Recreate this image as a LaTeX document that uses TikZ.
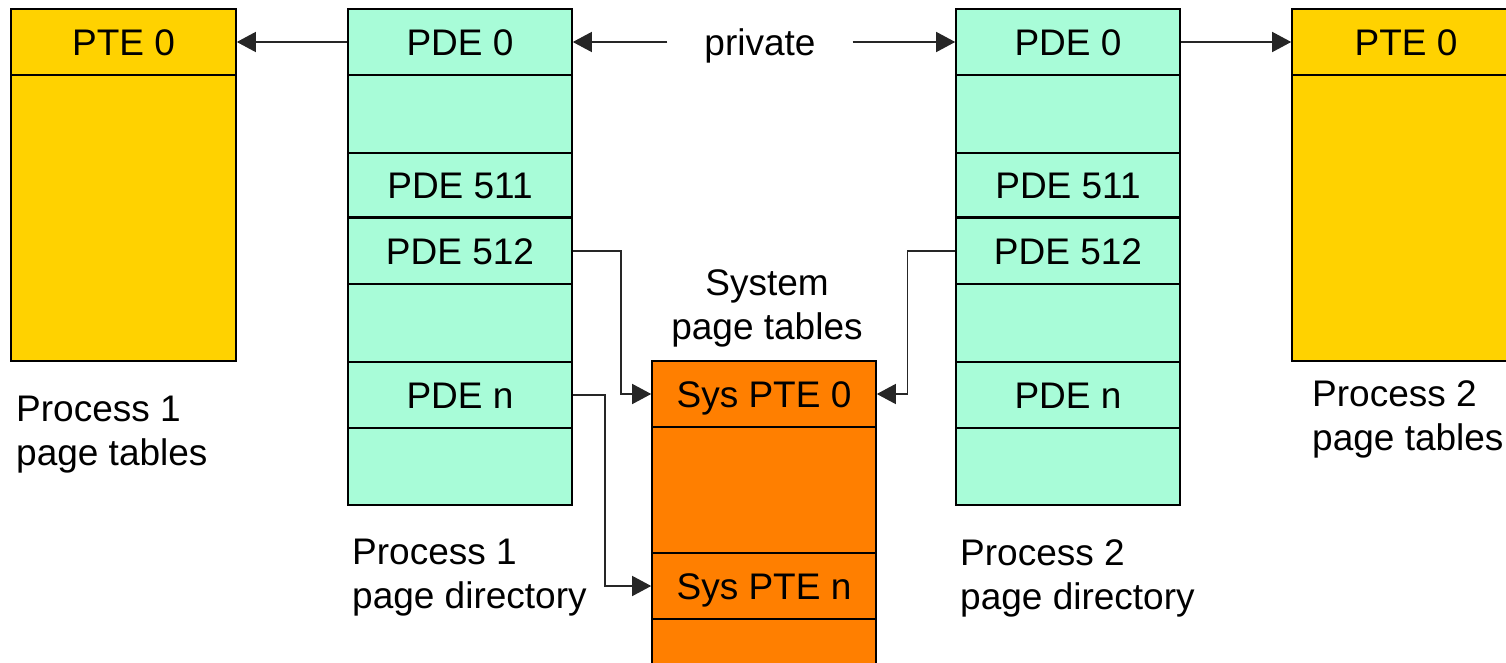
\documentclass[tikz,border=0pt]{standalone}
\usepackage{fontspec}
\setmainfont{Liberation Sans}
\usetikzlibrary{arrows.meta}
\definecolor{pteyellow}{RGB}{255,210,0}
\definecolor{pdemint}{RGB}{168,252,216}
\definecolor{sysorange}{RGB}{255,127,0}
\tikzset{
  cell/.style={draw=black, line width=1.6pt, inner sep=0pt, minimum width=224pt,
    text height=26.5pt, text depth=0pt,
    font=\fontsize{37}{44}\selectfont},
  pte/.style={cell, fill=pteyellow},
  pde/.style={cell, fill=pdemint},
  sys/.style={cell, fill=sysorange},
  lbl/.style={inner sep=0pt, font=\fontsize{37}{44}\selectfont},
  conn/.style={draw=black!85, line width=1.4pt, -{Triangle[length=19pt,width=20pt]}}
}
\begin{document}
\begin{tikzpicture}[x=1pt,y=-1pt]
\useasboundingbox (0,0) rectangle (1506,663);
\clip (0,0) rectangle (1506,663);
% Process 1 page tables
\node[pte, minimum width=225pt, minimum height=66pt] (lpte0) at (123.5,42) {PTE 0};
\node[pte, minimum width=225pt, minimum height=286pt] (lpte1) at (123.5,218) {};
% Process 1 page directory
\node[pde, minimum height=66pt] (ad0) at (460,42) {PDE 0};
\node[pde, minimum height=78pt] (ad1) at (460,114) {};
\node[pde, minimum height=63pt] (ad511) at (460,185) {PDE 511};
\node[pde, minimum height=66pt] (ad512) at (460,251) {PDE 512};
\node[pde, minimum height=78pt] (ad2) at (460,323) {};
\node[pde, minimum height=66pt] (adn) at (460,395) {PDE n};
\node[pde, minimum height=77pt] (ad3) at (460,466.5) {};
% Process 2 page directory
\node[pde, minimum height=66pt] (bd0) at (1068,42) {PDE 0};
\node[pde, minimum height=78pt] (bd1) at (1068,114) {};
\node[pde, minimum height=63pt] (bd511) at (1068,185) {PDE 511};
\node[pde, minimum height=66pt] (bd512) at (1068,251) {PDE 512};
\node[pde, minimum height=78pt] (bd2) at (1068,323) {};
\node[pde, minimum height=66pt] (bdn) at (1068,395) {PDE n};
\node[pde, minimum height=77pt] (bd3) at (1068,466.5) {};
% Process 2 page tables
\node[pte, minimum width=228pt, minimum height=66pt] (rpte0) at (1406,42) {PTE 0};
\node[pte, minimum width=228pt, minimum height=286pt] (rpte1) at (1406,218) {};
% System page tables
\node[sys, minimum height=66pt] (s0) at (764,394) {Sys PTE 0};
\node[sys, minimum height=126pt] (s1) at (764,490) {};
\node[sys, minimum height=66pt] (sn) at (764,586) {Sys PTE n};
\node[sys, minimum height=90pt] (s2) at (764,664) {};
% labels
\node[lbl, inner xsep=37pt, text height=26.5pt, text depth=0pt] (priv) at (760,42) {private};
\node[lbl, align=left, anchor=north west] (l1) at (16,396) {Process 1\\page tables};
\node[lbl, align=left, anchor=north west] (l2) at (352,539) {Process 1\\page directory};
\node[lbl, align=left, anchor=north west] (l3) at (960,539) {Process 2\\page directory};
\node[lbl, align=left, anchor=north west] (l4) at (1312,380) {Process 2\\page tables};
\node[lbl, align=center, anchor=north] (l5) at (767,269) {System\\page tables};
% connectors
\draw[conn] (ad0.west) -- (lpte0.east);
\draw[conn] (priv.west) -- (ad0.east);
\draw[conn] (priv.east) -- (bd0.west);
\draw[conn] (bd0.east) -- (rpte0.west);
\draw[conn] (ad512.east) -- ++(48,0) |- (s0.west);
\draw[conn] (bd512.west) -- ++(-48,0) |- (s0.east);
\draw[conn] (adn.east) -- ++(32,0) |- (sn.west);
\end{tikzpicture}
\end{document}
